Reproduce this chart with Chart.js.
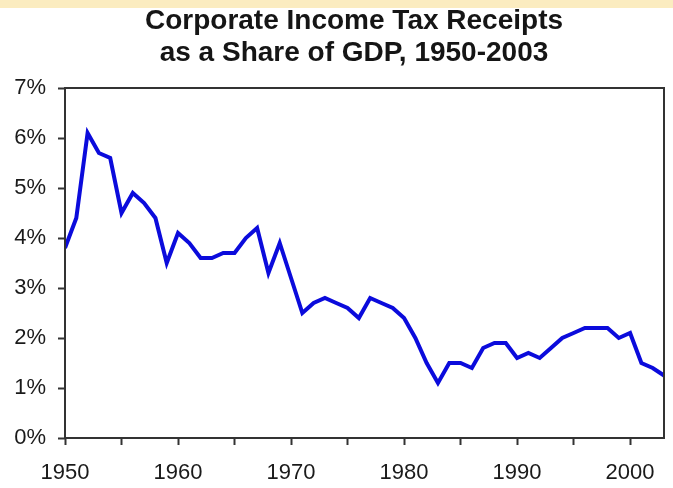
<!DOCTYPE html>
<html>
<head>
<meta charset="utf-8">
<script src="https://cdn.jsdelivr.net/npm/chart.js@4.4.0/dist/chart.umd.min.js"></script>
<style>
  html, body { margin: 0; padding: 0; }
  body {
    width: 673px; height: 488px; overflow: hidden;
    background: linear-gradient(to bottom, #fbecc0 0px, #fbecc0 8px, #ffffff 8px);
  }
  #wrap { position: absolute; left: 2px; top: 0; width: 671px; height: 488px; }
</style>
</head>
<body>
<div id="wrap"><canvas id="taxChart" width="671" height="488"></canvas></div>
<script>
// Corporate income tax receipts, % of GDP
const years = [1950, 1951, 1952, 1953, 1954, 1955, 1956, 1957, 1958, 1959,
               1960, 1961, 1962, 1963, 1964, 1965, 1966, 1967, 1968, 1969,
               1970, 1971, 1972, 1973, 1974, 1975, 1976, 1977, 1978, 1979,
               1980, 1981, 1982, 1983, 1984, 1985, 1986, 1987, 1988, 1989,
               1990, 1991, 1992, 1993, 1994, 1995, 1996, 1997, 1998, 1999,
               2000, 2001, 2002, 2003];
const shareOfGdp = [3.8, 4.4, 6.1, 5.7, 5.6, 4.5, 4.9, 4.7, 4.4, 3.5,
                    4.1, 3.9, 3.6, 3.6, 3.7, 3.7, 4.0, 4.2, 3.3, 3.9,
                    3.2, 2.5, 2.7, 2.8, 2.7, 2.6, 2.4, 2.8, 2.7, 2.6,
                    2.4, 2.0, 1.5, 1.1, 1.5, 1.5, 1.4, 1.8, 1.9, 1.9,
                    1.6, 1.7, 1.6, 1.8, 2.0, 2.1, 2.2, 2.2, 2.2, 2.0,
                    2.1, 1.5, 1.4, 1.25];
const xTicks = [1950, 1955, 1960, 1965, 1970, 1975, 1980, 1985, 1990, 1995, 2000];
const titleLines = ['Corporate Income Tax Receipts', 'as a Share of GDP, 1950-2003'];

const axisColor = '#333333';
const labelFont = { family: '"Liberation Sans", Arial, sans-serif', size: 22 };

// box around the plot area + the two-line title (centred a bit right of the canvas middle)
const frame = {
    id: 'frame',
    afterDraw(chart) {
        const { ctx, chartArea: a } = chart;
        ctx.save();
        ctx.strokeStyle = axisColor;
        ctx.lineWidth = 2;
        ctx.strokeRect(a.left, a.top, a.right - a.left, a.bottom - a.top);

        ctx.fillStyle = '#151515';
        ctx.font = 'bold 28px "Liberation Sans", Arial, sans-serif';
        ctx.textAlign = 'center';
        ctx.textBaseline = 'middle';
        titleLines.forEach((line, i) => ctx.fillText(line, 352, 21 + i * 32));
        ctx.restore();
    }
};

const ctx = document.getElementById('taxChart').getContext('2d');
new Chart(ctx, {
    type: 'line',
    data: {
        datasets: [{
            data: years.map((y, i) => ({ x: y, y: shareOfGdp[i] })),
            borderColor: '#0b0bdc',
            borderWidth: 4,
            pointRadius: 0,
            tension: 0,
            fill: false
        }]
    },
    options: {
        responsive: false,
        animation: false,
        layout: { padding: { left: 0, right: 9, top: 88, bottom: 0 } },
        plugins: {
            legend: { display: false },
            tooltip: { enabled: false },
            title: { display: false }
        },
        scales: {
            x: {
                type: 'linear',
                min: 1950,
                max: 2003,
                afterBuildTicks(scale) {
                    scale.ticks = xTicks.map(v => ({ value: v }));
                },
                afterFit(scale) { scale.height = 50; },
                grid: {
                    drawOnChartArea: false,
                    color: axisColor,
                    tickLength: 7,
                    tickWidth: 2
                },
                border: { display: false },
                ticks: {
                    autoSkip: false,
                    maxRotation: 0,
                    padding: 15,
                    color: '#1a1a1a',
                    font: labelFont,
                    callback: v => (v % 10 === 0 ? String(v) : '')
                }
            },
            y: {
                min: 0,
                max: 7,
                afterFit(scale) { scale.width = 63; },
                grid: {
                    drawOnChartArea: false,
                    color: axisColor,
                    tickLength: 7,
                    tickWidth: 2
                },
                border: { display: false },
                ticks: {
                    stepSize: 1,
                    padding: 12,
                    color: '#1a1a1a',
                    font: labelFont,
                    callback: v => v + '%'
                }
            }
        }
    },
    plugins: [frame]
});
</script>
</body>
</html>
